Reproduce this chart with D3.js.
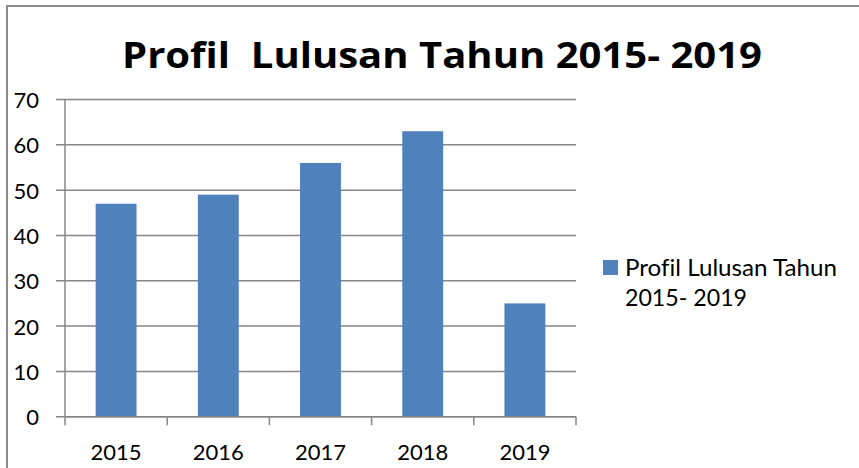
<!DOCTYPE html>
<html><head><meta charset="utf-8">
<script src="https://cdn.jsdelivr.net/npm/d3@7"></script>
<style>html,body{margin:0;padding:0;background:#fff;} svg{display:block;} text{font-variant-ligatures:none;font-feature-settings:"liga" 0;}</style>
</head><body>
<script>
const categories = ["2015", "2016", "2017", "2018", "2019"];
const values = [47, 49, 56, 63, 25];
const yTicks = [0, 10, 20, 30, 40, 50, 60, 70];
const titleText = "Profil  Lulusan Tahun 2015- 2019";
const legendLines = ["Profil Lulusan Tahun", "2015- 2019"];

const W = 859, H = 468;
const font = "Lato, 'Open Sans', sans-serif";
const titleFont = "'Open Sans', Lato, sans-serif";
const svg = d3.select("body").append("svg").attr("width", W).attr("height", H);
svg.append("rect").attr("width", W).attr("height", H).attr("fill", "#fff");

// outer chart border (left & top visible)
svg.append("path").attr("d", `M7,${H} L7,6 L${W},6`)
  .attr("fill", "none").attr("stroke", "#8c8c8c").attr("stroke-width", 2);

const x = d3.scaleBand().domain(categories).range([65, 576]).paddingInner(0.6).paddingOuter(0.3);
const y = d3.scaleLinear().domain([0, 70]).range([416.7, 99.5]);
const gridColor = "#868686";

// gridlines
svg.append("g").selectAll("line").data(yTicks).join("line")
  .attr("x1", 56).attr("x2", 576)
  .attr("y1", d => y(d)).attr("y2", d => y(d))
  .attr("stroke", gridColor).attr("stroke-width", 1.5);

// y axis line
svg.append("line").attr("x1", 65).attr("x2", 65).attr("y1", y(70)).attr("y2", y(0))
  .attr("stroke", gridColor).attr("stroke-width", 1.5);

// y labels
svg.append("g").selectAll("text").data(yTicks).join("text")
  .attr("x", 39).attr("y", d => y(d) + 8.5)
  .attr("text-anchor", "end").attr("font-family", font).attr("font-size", 22)
  .attr("fill", "#000").text(d => d);

// bars
svg.append("g").selectAll("rect").data(values).join("rect")
  .attr("x", (d, i) => x(categories[i])).attr("width", x.bandwidth())
  .attr("y", d => y(d)).attr("height", d => y(0) - y(d))
  .attr("fill", "#4F81BD");

// x axis line and ticks at category boundaries
svg.append("line").attr("x1", 65).attr("x2", 576).attr("y1", y(0)).attr("y2", y(0))
  .attr("stroke", gridColor).attr("stroke-width", 1.5);
const bounds = d3.range(categories.length + 1).map(i => x.range()[0] + i * x.step());
svg.append("g").selectAll("line").data(bounds).join("line")
  .attr("x1", d => d).attr("x2", d => d).attr("y1", y(0)).attr("y2", y(0) + 8.5)
  .attr("stroke", gridColor).attr("stroke-width", 1.5);

// x labels
svg.append("g").selectAll("text").data(categories).join("text")
  .attr("x", d => x(d) + x.bandwidth() / 2).attr("y", 460)
  .attr("text-anchor", "middle").attr("font-family", font).attr("font-size", 22)
  .attr("fill", "#000").text(d => d);

// title
svg.append("text").attr("x", 442).attr("y", 68.3)
  .attr("text-anchor", "middle").attr("font-family", titleFont).attr("font-weight", "bold")
  .attr("font-size", 36).attr("fill", "#000")
  .attr("textLength", 640).attr("lengthAdjust", "spacingAndGlyphs")
  .attr("xml:space", "preserve").style("white-space", "pre")
  .text(titleText);

// legend
svg.append("rect").attr("x", 603).attr("y", 260).attr("width", 15).attr("height", 15).attr("fill", "#4F81BD");
const legendLengths = [212, 122];
svg.append("g").selectAll("text").data(legendLines).join("text")
  .attr("x", 625).attr("y", (d, i) => 276 + i * 29.5)
  .attr("font-family", font).attr("font-size", 23).attr("fill", "#000")
  .attr("textLength", (d, i) => legendLengths[i]).attr("lengthAdjust", "spacingAndGlyphs")
  .text(d => d);
</script>
</body></html>
